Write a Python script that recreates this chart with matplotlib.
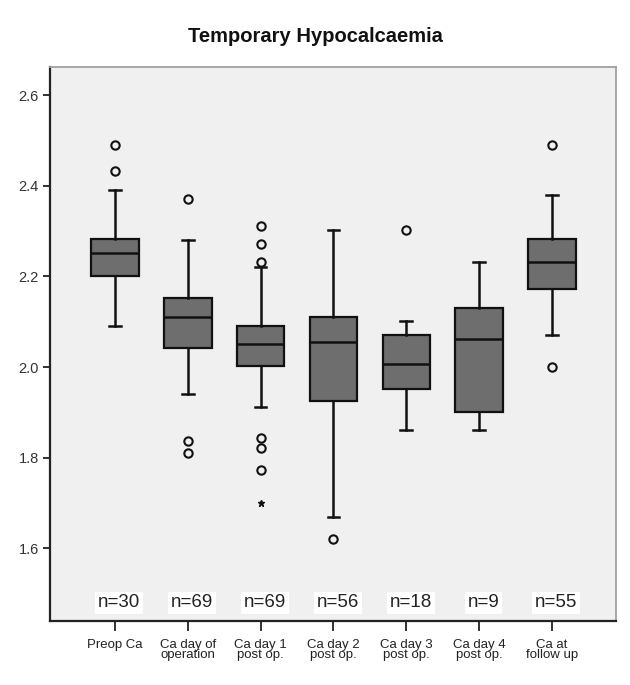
import matplotlib
matplotlib.use("Agg")
import matplotlib.pyplot as plt

plt.rcParams['font.family'] = ['Liberation Sans', 'DejaVu Sans']

categories = ["Preop Ca", "Ca day of\noperation", "Ca day 1\npost op.", "Ca day 2\npost op.",
              "Ca day 3\npost op.", "Ca day 4\npost op.", "Ca at\nfollow up"]
counts = [30, 69, 69, 56, 18, 9, 55]
q1 = [2.200, 2.043, 2.002, 1.925, 1.951, 1.902, 2.172]
medians = [2.252, 2.111, 2.052, 2.056, 2.006, 2.061, 2.231]
q3 = [2.282, 2.152, 2.091, 2.111, 2.070, 2.131, 2.282]
whisker_low = [2.090, 1.941, 1.913, 1.670, 1.861, 1.861, 2.070]
whisker_high = [2.390, 2.281, 2.221, 2.302, 2.102, 2.232, 2.380]
outliers = [[2.432, 2.490], [2.370, 1.837, 1.810], [2.231, 2.271, 2.312, 1.844, 1.822, 1.773],
            [1.620], [2.302], [], [2.490, 2.000]]
extremes = [[], [], [1.700], [], [], [], []]
yticks = [1.6, 1.8, 2.0, 2.2, 2.4, 2.6]

fig = plt.figure(figsize=(6.3, 6.85), dpi=100)
ax = fig.add_axes([50 / 630, 64 / 685, 566 / 630, 554 / 685])
ax.set_facecolor('#f0f0f0')

positions = list(range(len(categories)))
stats = []
for i in positions:
    stats.append(dict(med=medians[i], q1=q1[i], q3=q3[i], whislo=whisker_low[i],
                      whishi=whisker_high[i], fliers=outliers[i]))

ax.bxp(stats, positions=positions, widths=0.65, capwidths=0.16, patch_artist=True,
       showfliers=True,
       boxprops=dict(facecolor='#6e6e6e', edgecolor='#111111', linewidth=1.6),
       medianprops=dict(color='#111111', linewidth=1.8),
       whiskerprops=dict(color='#111111', linewidth=1.8),
       capprops=dict(color='#111111', linewidth=1.8),
       flierprops=dict(marker='o', markerfacecolor='none', markeredgecolor='#111111',
                       markersize=6, markeredgewidth=1.5, linestyle='none'))

for i in positions:
    if extremes[i]:
        ax.plot([i] * len(extremes[i]), extremes[i], linestyle='none', marker='*',
                color='#111111', markersize=5)

for i in positions:
    ax.text(i + 0.06, 1.48, f"n={counts[i]}", ha='center', va='center', fontsize=13.5,
            color='#222222',
            bbox=dict(facecolor='white', edgecolor='none', boxstyle='square,pad=0.15'))

ax.set_xlim(-0.893, 6.88)
ax.set_ylim(1.44, 2.662)
ax.set_yticks(yticks)
ax.set_yticklabels([f"{v:.1f}" for v in yticks], fontsize=10.5, color='#333333')
ax.set_xticks(positions)
ax.set_xticklabels(categories, fontsize=9.5, color='#222222', linespacing=0.8)
ax.tick_params(axis='y', length=5, width=1.3, color='#222222', pad=3)
ax.tick_params(axis='x', length=7, width=1.3, color='#222222', pad=6)

for side in ['left', 'bottom']:
    ax.spines[side].set_color('#222222')
    ax.spines[side].set_linewidth(1.6)
for side in ['top', 'right']:
    ax.spines[side].set_color('#a0a0a0')
    ax.spines[side].set_linewidth(1.3)

fig.text(315 / 630, 1 - 37 / 685, "Temporary Hypocalcaemia", ha='center', va='center',
         fontsize=14.5, fontweight='bold', color='#111111')

fig.savefig("out.png", dpi=100, facecolor='white')
